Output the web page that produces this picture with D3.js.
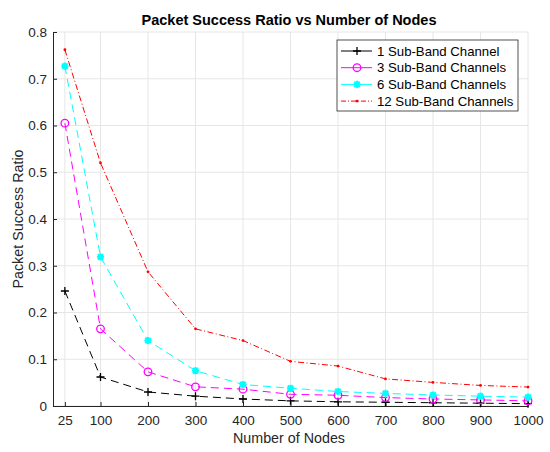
<!DOCTYPE html>
<html>
<head>
<meta charset="utf-8">
<script src="https://cdn.jsdelivr.net/npm/d3@7"></script>
<style>
  body { margin: 0; background: #fff; }
  text { font-family: "Liberation Sans", Arial, sans-serif; }
</style>
</head>
<body>
<div id="chart"></div>
<script>
var nodes = [25, 100, 200, 300, 400, 500, 600, 700, 800, 900, 1000];
var oneBand = [0.246, 0.062, 0.030, 0.021, 0.015, 0.011, 0.009, 0.008, 0.007, 0.006, 0.005];
var threeBands = [0.605, 0.165, 0.073, 0.041, 0.036, 0.025, 0.023, 0.018, 0.015, 0.013, 0.011];
var sixBands = [0.727, 0.319, 0.140, 0.0755, 0.046, 0.038, 0.031, 0.027, 0.0235, 0.021, 0.019];
var twelveBands = [0.762, 0.520, 0.287, 0.165, 0.140, 0.0955, 0.0855, 0.058, 0.0505, 0.044, 0.0405];
var yTicks = [0, 0.1, 0.2, 0.3, 0.4, 0.5, 0.6, 0.7, 0.8];
var seriesNames = ['1 Sub-Band Channel', '3 Sub-Band Channels', '6 Sub-Band Channels', '12 Sub-Band Channels'];

var width = 550;
var height = 452;
var margin = { top: 32, right: 22, bottom: 46, left: 53 };

var series = [
    { name: seriesNames[0], values: oneBand, color: 'black', dash: '8,5', marker: 'plus' },
    { name: seriesNames[1], values: threeBands, color: 'magenta', dash: '8,5', marker: 'circle' },
    { name: seriesNames[2], values: sixBands, color: 'cyan', dash: '8,5', marker: 'star' },
    { name: seriesNames[3], values: twelveBands, color: 'red', dash: '6,2.5,1,2.5', marker: 'dot' }
];

var svg = d3.select('#chart').append('svg')
    .attr('width', width)
    .attr('height', height);

var x = d3.scaleLinear().domain([0, 1000]).range([margin.left, width - margin.right]);
var y = d3.scaleLinear().domain([0, 0.8]).range([height - margin.bottom, margin.top]);

// grid
var grid = svg.append('g');
grid.selectAll('.vgrid').data(nodes).enter().append('line')
    .attr('x1', function (d) { return x(d); })
    .attr('x2', function (d) { return x(d); })
    .attr('y1', y(0)).attr('y2', y(0.8))
    .attr('stroke', '#e6e6e6');
grid.selectAll('.hgrid').data(yTicks).enter().append('line')
    .attr('x1', x(0)).attr('x2', x(1000))
    .attr('y1', function (d) { return y(d); })
    .attr('y2', function (d) { return y(d); })
    .attr('stroke', '#e6e6e6');

// axes
var xAxis = d3.axisBottom(x).tickValues(nodes).tickSizeInner(-4).tickSizeOuter(0).tickPadding(9)
    .tickFormat(function (d) { return String(d); });
var yAxis = d3.axisLeft(y).tickValues(yTicks).tickSizeInner(-4).tickSizeOuter(0).tickPadding(6)
    .tickFormat(function (d) { return d === 0 ? '0' : d3.format('.1f')(d); });

var gx = svg.append('g').attr('transform', 'translate(0,' + y(0) + ')').call(xAxis);
var gy = svg.append('g').attr('transform', 'translate(' + x(0) + ',0)').call(yAxis);
[gx, gy].forEach(function (g) {
    g.select('.domain').attr('stroke', '#262626');
    g.selectAll('.tick line').attr('stroke', '#262626');
    g.selectAll('.tick text').attr('fill', '#262626').style('font-size', '13.5px')
        .style('font-family', '"Liberation Sans", Arial, sans-serif');
});

// lines
var line = d3.line()
    .x(function (d, i) { return x(nodes[i]); })
    .y(function (d) { return y(d); });

function drawMarker(g, type, color, cx, cy) {
    if (type === 'plus') {
        g.append('path').attr('d', 'M' + (cx - 4) + ',' + cy + 'H' + (cx + 4) + 'M' + cx + ',' + (cy - 4) + 'V' + (cy + 4))
            .attr('stroke', color).attr('stroke-width', 1.3);
    } else if (type === 'circle') {
        g.append('circle').attr('cx', cx).attr('cy', cy).attr('r', 3.8)
            .attr('fill', 'none').attr('stroke', color).attr('stroke-width', 1.3);
    } else if (type === 'star') {
        var s = 3.6;
        g.append('path').attr('d',
            'M' + (cx - s) + ',' + cy + 'H' + (cx + s) +
            'M' + cx + ',' + (cy - s) + 'V' + (cy + s) +
            'M' + (cx - s * 0.75) + ',' + (cy - s * 0.75) + 'L' + (cx + s * 0.75) + ',' + (cy + s * 0.75) +
            'M' + (cx - s * 0.75) + ',' + (cy + s * 0.75) + 'L' + (cx + s * 0.75) + ',' + (cy - s * 0.75))
            .attr('stroke', color).attr('stroke-width', 2);
    } else {
        g.append('circle').attr('cx', cx).attr('cy', cy).attr('r', 1.4).attr('fill', color);
    }
}

series.forEach(function (s) {
    var g = svg.append('g');
    g.append('path').datum(s.values)
        .attr('d', line)
        .attr('fill', 'none')
        .attr('stroke', s.color)
        .attr('stroke-width', 1)
        .attr('stroke-dasharray', s.dash);
    s.values.forEach(function (v, i) {
        drawMarker(g, s.marker, s.color, x(nodes[i]), y(v));
    });
});

// title and labels
svg.append('text')
    .attr('x', 289).attr('y', 25)
    .attr('text-anchor', 'middle')
    .style('font-size', '14.5px').style('font-weight', 'bold')
    .attr('fill', '#000')
    .text('Packet Success Ratio vs Number of Nodes');

svg.append('text')
    .attr('x', 289).attr('y', 443)
    .attr('text-anchor', 'middle')
    .style('font-size', '14.3px')
    .attr('fill', '#262626')
    .text('Number of Nodes');

svg.append('text')
    .attr('transform', 'translate(23,219) rotate(-90)')
    .attr('text-anchor', 'middle')
    .style('font-size', '14.3px')
    .attr('fill', '#262626')
    .text('Packet Success Ratio');

// legend
var legend = svg.append('g');
legend.append('rect')
    .attr('x', 337).attr('y', 40).attr('width', 181).attr('height', 71)
    .attr('fill', 'white').attr('stroke', '#262626').attr('stroke-width', 0.8);
series.forEach(function (s, i) {
    var ly = 51 + i * 16.7;
    legend.append('line')
        .attr('x1', 341).attr('x2', 372).attr('y1', ly).attr('y2', ly)
        .attr('stroke', s.color).attr('stroke-width', 1)
        .attr('stroke-dasharray', i === 3 ? '5,2,1,2' : null);
    drawMarker(legend, s.marker, s.color, 357, ly);
    legend.append('text')
        .attr('x', 377).attr('y', ly + 4.7)
        .style('font-size', '13.2px')
        .attr('fill', '#000')
        .text(s.name);
});
</script>
</body>
</html>
